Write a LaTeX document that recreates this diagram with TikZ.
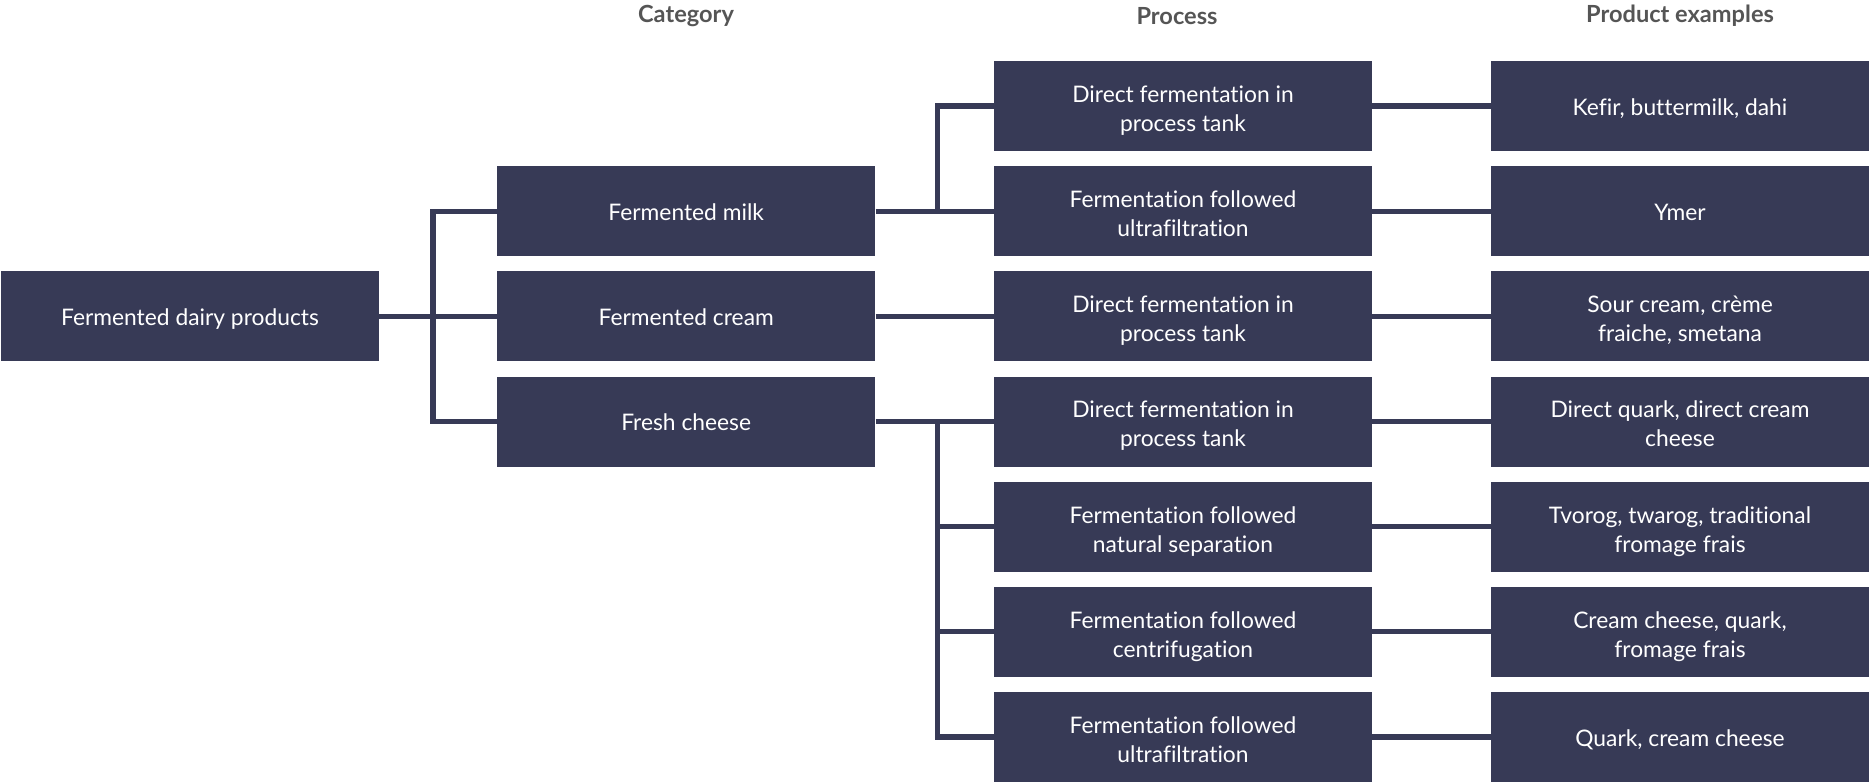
\documentclass[tikz,border=0pt]{standalone}
\usepackage{fontspec}
\setmainfont{Lato}[Ligatures=NoCommon]
\definecolor{boxc}{HTML}{373A56}
\definecolor{headc}{HTML}{555555}
\newcommand{\twol}[2]{\raisebox{0pt}[6pt][9.65pt]{\begin{tabular}[t]{@{}c@{}}#1\\#2\end{tabular}}}
\tikzset{
  boxbase/.style={rectangle, fill=boxc, text=white, minimum width=189pt, minimum height=45pt,
    inner sep=0pt, font=\fontsize{11.4pt}{14.5pt}\selectfont},
  box/.style={boxbase,
    execute at begin node={\rule{0pt}{12pt}},
    execute at end node={\rule[-3pt]{0pt}{3pt}}},
  box2/.style={boxbase},
  head/.style={text=headc, inner sep=0pt, font=\fontsize{11.8pt}{14pt}\selectfont\bfseries},
  conn/.style={draw=boxc, line width=2.6pt, line join=miter}
}
\begin{document}
\begin{tikzpicture}[x=0.5pt,y=-0.5pt]
\useasboundingbox (0,0) rectangle (1869,783);
% headers
\node[head] (hcat) at (686,16) {Category};
\node[head] (hproc) at (1177,16) {Process};
\node[head] (hprod) at (1680,16) {Product examples};
% root
\node[box] (root) at (190,316.3) {Fermented dairy products};
% categories
\node[box] (cat1) at (686.2,211.2) {Fermented milk};
\node[box] (cat2) at (686.2,316.3) {Fermented cream};
\node[box] (cat3) at (686.2,421.5) {Fresh cheese};
% processes
\node[box2] (p0) at (1183,106) {\twol{Direct fermentation in}{process tank}};
\node[box2] (p1) at (1183,211.2) {\twol{Fermentation followed}{ultrafiltration}};
\node[box2] (p2) at (1183,316.3) {\twol{Direct fermentation in}{process tank}};
\node[box2] (p3) at (1183,421.5) {\twol{Direct fermentation in}{process tank}};
\node[box2] (p4) at (1183,526.7) {\twol{Fermentation followed}{natural separation}};
\node[box2] (p5) at (1183,631.8) {\twol{Fermentation followed}{centrifugation}};
\node[box2] (p6) at (1183,737) {\twol{Fermentation followed}{ultrafiltration}};
% products
\node[box] (e0) at (1680,106) {Kefir, buttermilk, dahi};
\node[box] (e1) at (1680,211.2) {Ymer};
\node[box2] (e2) at (1680,316.3) {\twol{Sour cream, crème}{fraiche, smetana}};
\node[box2] (e3) at (1680,421.5) {\twol{Direct quark, direct cream}{cheese}};
\node[box2] (e4) at (1680,526.7) {\twol{Tvorog, twarog, traditional}{fromage frais}};
\node[box2] (e5) at (1680,631.8) {\twol{Cream cheese, quark,}{fromage frais}};
\node[box] (e6) at (1680,737) {Quark, cream cheese};
% junctions
\coordinate (j1) at (433,316.3);
\coordinate (j2) at (937.5,211.2);
\coordinate (j3) at (937.5,421.5);
% connectors root -> categories
\draw[conn] (root.east) -- (cat2.west);
\draw[conn] (cat1.west) -| (j1) |- (cat3.west);
% category -> process
\draw[conn] (cat1.east) -- (p1.west);
\draw[conn] (p0.west) -| (j2);
\draw[conn] (cat2.east) -- (p2.west);
\draw[conn] (cat3.east) -- (p3.west);
\draw[conn] (j3) |- (p6.west);
\draw[conn] (j3 |- p4.west) -- (p4.west);
\draw[conn] (j3 |- p5.west) -- (p5.west);
% process -> product
\draw[conn] (p0.east) -- (e0.west);
\draw[conn] (p1.east) -- (e1.west);
\draw[conn] (p2.east) -- (e2.west);
\draw[conn] (p3.east) -- (e3.west);
\draw[conn] (p4.east) -- (e4.west);
\draw[conn] (p5.east) -- (e5.west);
\draw[conn] (p6.east) -- (e6.west);
\end{tikzpicture}
\end{document}
